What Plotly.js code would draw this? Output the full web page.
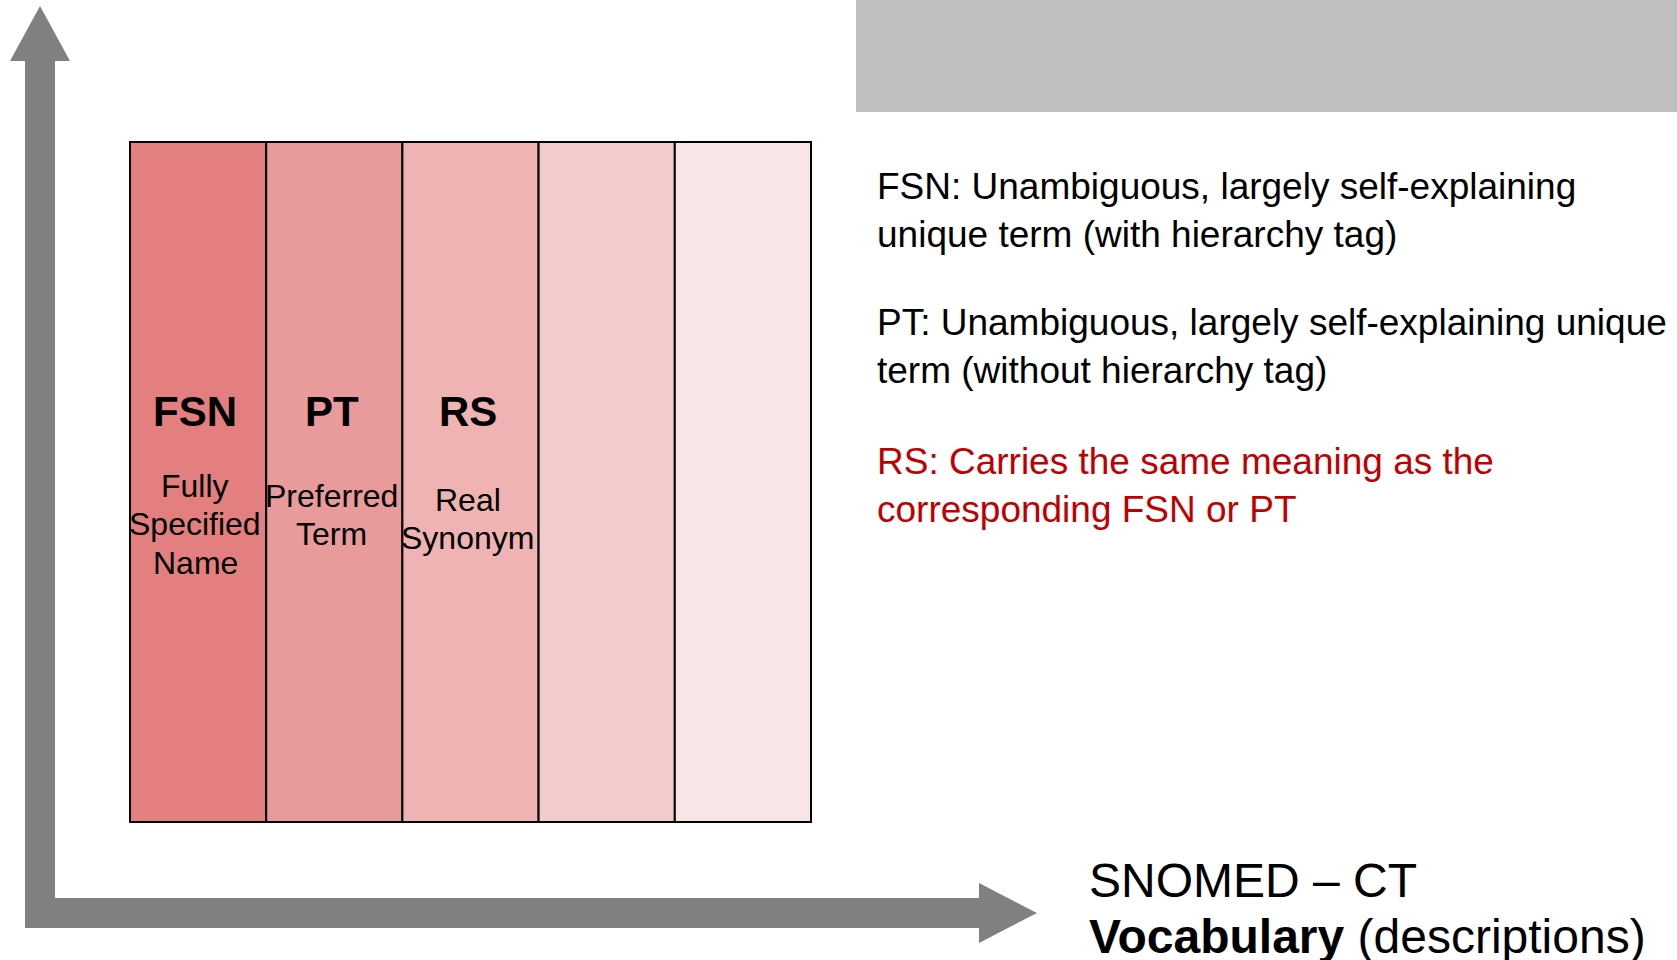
<!DOCTYPE html>
<html>
<head>
<meta charset="utf-8">
<script src="https://cdn.plot.ly/plotly-3.0.1.min.js"></script>
<style>html,body{margin:0;padding:0;background:#fff;}#chart{width:1677px;height:960px;}</style>
</head>
<body>
<div id="chart"></div>
<script>
// ---- data ----
const columnIndex = [0, 1, 2, 3, 4];
const columnHeights = [1, 1, 1, 1, 1];
const abbreviations = ['FSN', 'PT', 'RS', '', ''];
const fullNames = [['Fully', 'Specified', 'Name'], ['Preferred', 'Term'], ['Real', 'Synonym'], [], []];
const definitions = [
  'FSN: Unambiguous, largely self-explaining<br>unique term (with hierarchy tag)',
  'PT: Unambiguous, largely self-explaining unique<br>term (without hierarchy tag)',
  'RS: Carries the same meaning as the<br>corresponding FSN or PT'
];
const axisTitleLine1 = 'SNOMED \u2013 CT';
const axisTitleLine2 = '<b>Vocabulary</b> (descriptions)';

// ---- styles ----
const columnColors = ['#E37F7E', '#E99A9A', '#EFB3B3', '#F3CBCB', '#F8E5E5'];
const definitionColors = ['#000000', '#000000', '#C00000'];
const FONT = 'Liberation Sans, Arial, sans-serif';
const W = 1677, H = 960;

const traces = [{
  type: 'bar',
  x: columnIndex,
  y: columnHeights,
  xaxis: 'x2', yaxis: 'y2',
  marker: { color: columnColors, line: { color: '#000', width: 2 } },
  hoverinfo: 'skip',
  showlegend: false
}];

const annotations = [];
const labelShift = -0.02;
abbreviations.forEach((a, i) => {
  if (!a) return;
  annotations.push({ xref: 'x2', yref: 'y', x: columnIndex[i] + labelShift, y: 411, text: '<b>' + a + '</b>',
    showarrow: false, font: { family: FONT, size: 42, color: '#000' }, xanchor: 'center', yanchor: 'middle' });
});
const nameCenters = [524, 515, 519];
const lineStep = 38.5;
fullNames.forEach((lines, i) => {
  lines.forEach((ln, k) => {
    const y = nameCenters[i] + (k - (lines.length - 1) / 2) * lineStep;
    annotations.push({ xref: 'x2', yref: 'y', x: columnIndex[i] + labelShift, y: y, text: ln,
      showarrow: false, font: { family: FONT, size: 32, color: '#000' }, xanchor: 'center', yanchor: 'middle' });
  });
});
const defY = [210, 346, 485];
definitions.forEach((d, i) => {
  annotations.push({ xref: 'x', yref: 'y', x: 875, y: defY[i], text: d, showarrow: false,
    font: { family: FONT, size: 37, color: definitionColors[i] }, xanchor: 'left', yanchor: 'middle', align: 'left' });
});
annotations.push({ xref: 'x', yref: 'y', x: 1087, y: 880, text: axisTitleLine1, showarrow: false,
  font: { family: FONT, size: 48, color: '#000' }, xanchor: 'left', yanchor: 'middle' });
annotations.push({ xref: 'x', yref: 'y', x: 1087, y: 936, text: axisTitleLine2, showarrow: false,
  font: { family: FONT, size: 48, color: '#000' }, xanchor: 'left', yanchor: 'middle' });

const shapes = [
  { type: 'rect', xref: 'x', yref: 'y', x0: 856, x1: W, y0: 0, y1: 112, fillcolor: '#BFBFBF', line: { width: 0 }, layer: 'below' },
  { type: 'path', xref: 'x', yref: 'y',
    path: 'M25,61 L10,61 L40,6 L70,61 L55,61 L55,898 L979,898 L979,883 L1037,913 L979,943 L979,928 L25,928 Z',
    fillcolor: '#808080', line: { width: 0 }, layer: 'below' },
  { type: 'rect', xref: 'x2 domain', yref: 'y2 domain', x0: 0, x1: 1, y0: 0, y1: 1, line: { color: '#000', width: 2 }, fillcolor: 'rgba(0,0,0,0)' }
];

const layout = {
  width: W, height: H,
  margin: { l: 0, r: 0, t: 0, b: 0, pad: 0 },
  paper_bgcolor: '#fff', plot_bgcolor: 'rgba(0,0,0,0)',
  showlegend: false,
  bargap: 0,
  xaxis: { range: [0, W], visible: false, fixedrange: true, domain: [0, 1] },
  yaxis: { range: [H, 0], visible: false, fixedrange: true, domain: [0, 1] },
  xaxis2: { range: [-0.5, 4.5], visible: false, domain: [130 / W, 811 / W], anchor: 'y2' },
  yaxis2: { range: [0, 1], visible: false, domain: [1 - 822 / H, 1 - 142 / H], anchor: 'x2' },
  annotations: annotations,
  shapes: shapes
};

Plotly.newPlot('chart', traces, layout, { displayModeBar: false, staticPlot: true });
</script>
</body>
</html>
